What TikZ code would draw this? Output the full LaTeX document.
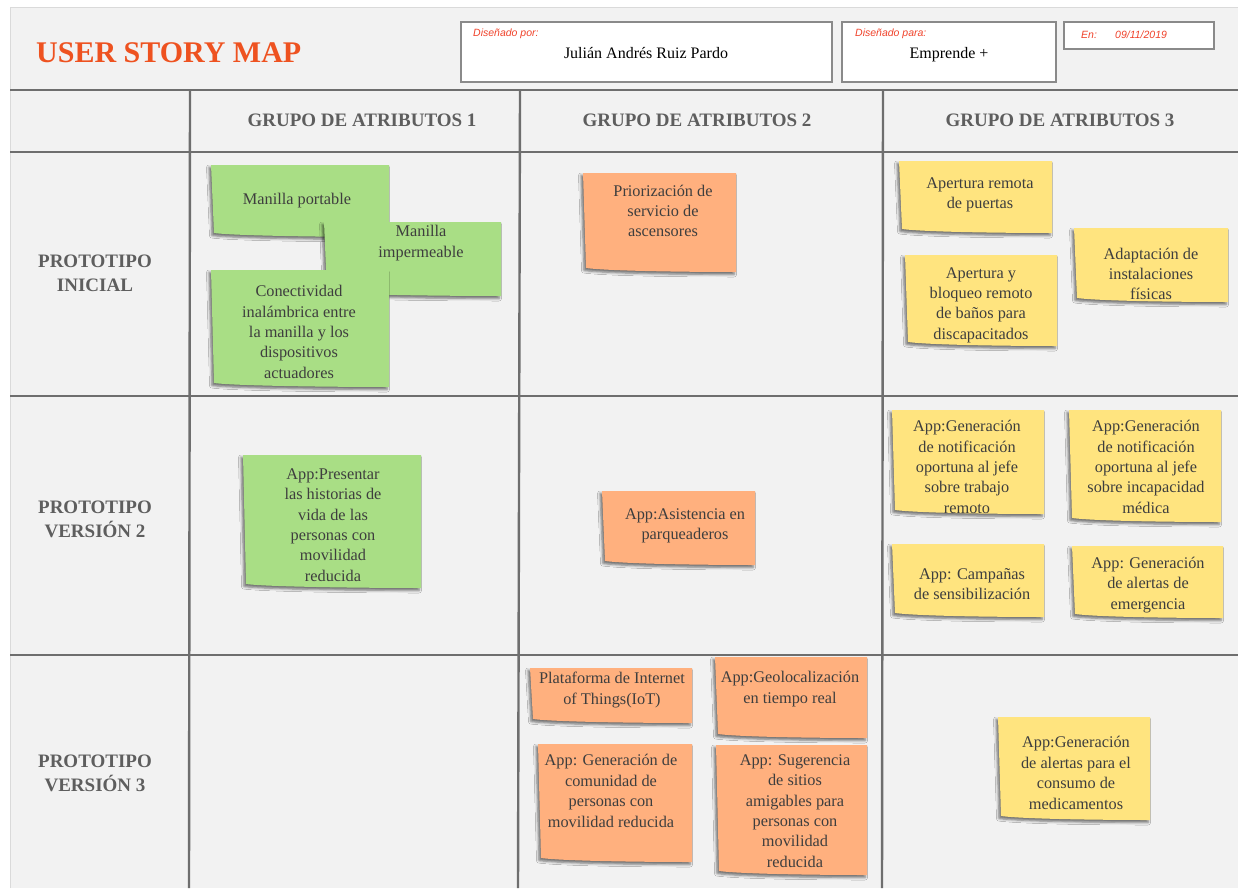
\documentclass[tikz,border=0pt]{standalone}
\usepackage{fontspec}
\setmainfont{Liberation Serif}
\newfontfamily\sansf{Liberation Sans}
\usetikzlibrary{shadows.blur}

\definecolor{panel}{HTML}{F2F2F2}
\definecolor{panelrim}{HTML}{DADADA}
\definecolor{gridline}{HTML}{6E6E6E}
\definecolor{titlered}{HTML}{EE5220}
\definecolor{labelred}{HTML}{F0432B}
\definecolor{headgray}{HTML}{5E5E5E}
\definecolor{boxrim}{HTML}{8A8A8A}
\definecolor{notegreen}{HTML}{A9DE85}
\definecolor{noteorange}{HTML}{FFB07E}
\definecolor{noteyellow}{HTML}{FFE47F}
\definecolor{notetextgray}{HTML}{3E3E3E}

% sticky note: name, colour, x1, y1, x2, y2, text x, text y, text
\newcommand{\stickynote}[9]{%
  \fill[#2, blur shadow={shadow xshift=-2pt, shadow yshift=-2.5pt,
        shadow blur radius=2.5pt, shadow opacity=55}]
    (#3,#4) -- (#5,#4) -- (#5,#6)
    .. controls ({#5-50},{#6}) and ({#3+25},{#6-1}) .. ({#3+3},{#6-4})
    -- cycle;
  \node[notetext] (#1) at (#7,#8) {#9};
}

\begin{document}
\begin{tikzpicture}[x=1pt, y=-1pt,
  gridrule/.style={draw=gridline, line width=2.4pt},
  infobox/.style={draw=boxrim, fill=white, line width=1.3pt, anchor=north west,
                  inner sep=0pt, outer sep=0pt},
  infolabel/.style={font=\sansf\itshape\fontsize{10.5}{12}\selectfont,
                    text=labelred, inner sep=0pt},
  infotext/.style={font=\fontsize{16}{18}\selectfont, text=black, inner sep=0pt},
  headtext/.style={font=\bfseries\fontsize{19}{24}\selectfont, text=headgray,
                   inner sep=0pt, align=center},
  notetext/.style={font=\fontsize{16.3}{20.4}\selectfont, text=notetextgray,
                   align=center, inner sep=0pt}]

\useasboundingbox (0,0) rectangle (1238,888);
\fill[white] (0,0) rectangle (1238,888);
\fill[panel] (10,8) rectangle (1238,888);
\draw[panelrim, line width=1pt] (10,888) -- (10,8) -- (1238,8);

% title and header boxes
\node[anchor=base west, inner sep=0pt, text=titlered,
      font=\bfseries\fontsize{30}{30}\selectfont] (title) at (36,63) {USER STORY MAP};

\node[infobox, minimum width=371pt, minimum height=60pt] (porbox) at (461,22) {};
\node[infolabel, anchor=base west] (porlabel) at (473,37) {Diseñado por:};
\node[infotext, anchor=base] (porname) at (646,59) {Julián Andrés Ruiz Pardo};

\node[infobox, minimum width=214pt, minimum height=60pt] (parabox) at (842,22) {};
\node[infolabel, anchor=base west] (paralabel) at (855,37) {Diseñado para:};
\node[infotext, anchor=base] (paraname) at (949,59) {Emprende +};

\node[infobox, minimum width=150pt, minimum height=27pt] (enbox) at (1064,22) {};
\node[infolabel, anchor=base west] (enlabel) at (1081,39) {En:};
\node[infolabel, anchor=base west] (endate) at (1115,39) {09/11/2019};

% grid
\draw[gridrule] (10,90) -- (1238,90);
\draw[gridrule] (10,152) -- (1238,152);
\draw[gridrule] (10,396) -- (1238,396);
\draw[gridrule] (10,655) -- (1238,655);
\draw[gridrule] (190,90) -- (189,888);
\draw[gridrule] (520,90) -- (518,888);
\draw[gridrule] (883,90) -- (882,888);

% column and row headings
\node[headtext, anchor=base] (col1) at (362,127) {GRUPO DE ATRIBUTOS 1};
\node[headtext, anchor=base] (col2) at (697,127) {GRUPO DE ATRIBUTOS 2};
\node[headtext, anchor=base] (col3) at (1060,127) {GRUPO DE ATRIBUTOS 3};

\node[headtext] (row1) at (95,273) {PROTOTIPO\\INICIAL};
\node[headtext] (row2) at (95,519) {PROTOTIPO\\VERSIÓN 2};
\node[headtext] (row3) at (95,773) {PROTOTIPO\\VERSIÓN 3};

% attribute group 1
\stickynote{g1}{notegreen}{211}{165}{389}{237}{297}{201}{Manilla portable}
\stickynote{g2}{notegreen}{324}{222}{501}{296}{421}{243}{Manilla\\impermeable}
\stickynote{g3}{notegreen}{211}{270}{389}{387}{299}{332}{Conectividad\\inalámbrica entre\\la manilla y los\\dispositivos\\actuadores}
\stickynote{g4}{notegreen}{243}{455}{421}{588}{333}{525}{App:Presentar\\las historias de\\vida de las\\personas con\\movilidad\\reducida}

% attribute group 2
\stickynote{o1}{noteorange}{583}{173}{736}{272}{663}{211}{Priorización de\\servicio de\\ascensores}
\stickynote{o2}{noteorange}{602}{491}{755}{565}{685}{526}{App:Asistencia en\\parqueaderos}
\stickynote{o3}{noteorange}{530}{668}{692}{723}{612}{690}{Plataforma de Internet\\of Things(IoT)}
\stickynote{o4}{noteorange}{715}{657}{867}{738}{790}{689}{App:Geolocalización\\en tiempo real}
\stickynote{o5}{noteorange}{538}{744}{692}{862}{611}{791}{App: Generación de\\comunidad de\\personas con\\movilidad reducida}
\stickynote{o6}{noteorange}{716}{745}{867}{875}{795}{811}{App: Sugerencia\\de sitios\\amigables para\\personas con\\movilidad\\reducida}

% attribute group 3
\stickynote{y1}{noteyellow}{899}{161}{1052}{233}{980}{195}{Apertura remota\\de puertas}
\stickynote{y2}{noteyellow}{905}{255}{1057}{346}{981}{305}{Apertura y\\bloqueo remoto\\de baños para\\discapacitados}
\stickynote{y3}{noteyellow}{1074}{228}{1228}{302}{1151}{274}{Adaptación de\\instalaciones\\físicas}
\stickynote{y4}{noteyellow}{892}{410}{1044}{514}{967}{467}{App:Generación\\de notificación\\oportuna al jefe\\sobre trabajo\\remoto}
\stickynote{y5}{noteyellow}{1069}{410}{1221}{522}{1146}{467}{App:Generación\\de notificación\\oportuna al jefe\\sobre incapacidad\\médica}
\stickynote{y6}{noteyellow}{892}{544}{1044}{617}{972}{584}{App: Campañas\\de sensibilización}
\stickynote{y7}{noteyellow}{1072}{546}{1223}{618}{1148}{585}{App: Generación\\de alertas de\\emergencia}
\stickynote{y8}{noteyellow}{998}{717}{1150}{820}{1076}{773}{App:Generación\\de alertas para el\\consumo de\\medicamentos}

\end{tikzpicture}
\end{document}
